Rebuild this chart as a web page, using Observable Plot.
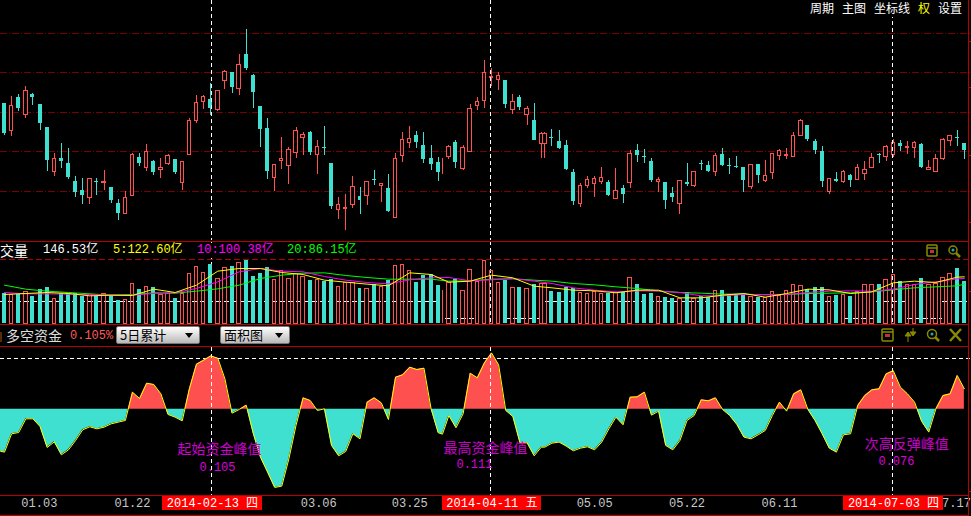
<!DOCTYPE html>
<html lang="zh">
<head>
<meta charset="utf-8">
<script src="https://cdn.jsdelivr.net/npm/d3@7"></script>
<script src="https://cdn.jsdelivr.net/npm/@observablehq/plot@0.6"></script>
<style>
html,body{margin:0;padding:0;background:#000;width:971px;height:516px;overflow:hidden}
#stage{position:relative;width:971px;height:516px;background:#000;overflow:hidden;font-family:"Liberation Mono","Noto Sans CJK SC",monospace}
.panel{position:absolute;left:0}
.panel svg{display:block;background:transparent!important}
.line{position:absolute;background:#b80000}
.t{position:absolute;white-space:pre;line-height:14px;font-size:12px}
.cjk{font-family:"Noto Sans CJK SC",sans-serif}
.combo{position:absolute;top:326px;height:18px;box-sizing:border-box;border:1px solid #777;border-radius:2px;background:linear-gradient(#fff,#b9b9b9);color:#000;font:13px/16px "Noto Sans CJK SC",sans-serif;padding-left:3px}
.combo i{position:absolute;right:6px;top:6px;width:0;height:0;border:4px solid transparent;border-top:5px solid #000;border-bottom:0}
.icon{position:absolute}
</style>
</head>
<body>
<div id="stage">
  <div class="panel" id="pPrice" style="top:0"></div>
  <div class="panel" id="pVol" style="top:241px"></div>
  <div class="panel" id="pFund" style="top:347px"></div>
  <div class="panel" id="pAxis" style="top:496px"></div>

  <div class="line" style="left:0;top:241px;width:969px;height:1px"></div>
  <div class="line" style="left:0;top:324px;width:969px;height:1px"></div>
  <div class="line" style="left:0;top:346px;width:969px;height:1px"></div>
  <div class="line" style="left:0;top:495px;width:969px;height:1px"></div>
  <div class="line" style="left:0;top:515px;width:969px;height:1px"></div>
  <div class="line" style="left:968px;top:0;width:1px;height:516px"></div>
  <div class="line" style="left:968px;top:41px;width:3px;height:1px"></div>
  <div class="line" style="left:968px;top:87px;width:3px;height:1px"></div>
  <div class="line" style="left:968px;top:155px;width:3px;height:1px"></div>
  <div class="line" style="left:968px;top:222px;width:3px;height:1px"></div>
  <div class="line" style="left:968px;top:291px;width:3px;height:1px"></div>
  <div class="line" style="left:968px;top:491px;width:3px;height:1px"></div>

  <div style="position:absolute;left:805px;top:0;width:162px;height:17px;background:#000"></div>
  <div class="t cjk" style="left:810px;top:1px;color:#fff">周期</div>
  <div class="t cjk" style="left:842px;top:1px;color:#fff">主图</div>
  <div class="t cjk" style="left:874px;top:1px;color:#fff">坐标线</div>
  <div class="t cjk" style="left:918px;top:1px;color:#ff0">权</div>
  <div class="t cjk" style="left:938px;top:1px;color:#fff">设置</div>

  <div style="position:absolute;left:0;top:243px;width:360px;height:15px;background:#000"></div>
  <div class="t cjk" style="left:0;top:243px;color:#fff;font-size:14px">交量</div>
  <div class="t" style="left:43px;top:243px;color:#fff">146.53亿</div>
  <div class="t" style="left:113px;top:243px;color:#ff0">5:122.60亿</div>
  <div class="t" style="left:197px;top:243px;color:#f0f">10:100.38亿</div>
  <div class="t" style="left:287px;top:243px;color:#0f0">20:86.15亿</div>

  <div style="position:absolute;left:0;top:332px;width:2px;height:10px;background:#5a2a00"></div>
  <div class="t cjk" style="left:6px;top:328px;color:#ddd;font-size:14px">多空资金</div>
  <div class="t" style="left:70px;top:329px;color:#ff5a5a">0.105%</div>
  <div class="combo" style="left:116px;width:84px">5日累计<i></i></div>
  <div class="combo" style="left:220px;width:70px">面积图<i></i></div>

  <svg class="icon" style="left:926px;top:244px" width="36" height="14" fill="none" stroke="#8a8a00" stroke-width="1.5">
    <rect x="1" y="1" width="10" height="11" rx="1"/><path d="M1 4H11"/><rect x="4" y="6" width="4" height="3" fill="#b33" stroke="none"/>
    <circle cx="27" cy="6" r="4"/><path d="M30 9L34 13" stroke-width="2.5"/><circle cx="27" cy="6" r="1.5" fill="#2aa" stroke="none"/>
  </svg>
  <svg class="icon" style="left:881px;top:327px" width="82" height="16" fill="none" stroke="#8a8a00" stroke-width="1.5">
    <rect x="1" y="2" width="11" height="12" rx="1"/><path d="M1 5H12"/><rect x="4" y="7" width="5" height="3" fill="#b33" stroke="none"/>
    <path d="M24 9L27 5L30 9ZM27 9V15M29 5L32 9L35 5ZM32 5V1" fill="#8a8a00" stroke-width="1"/>
    <circle cx="51" cy="7" r="4.5"/><path d="M54 10L58 14" stroke-width="2.5"/><circle cx="51" cy="7" r="1.5" fill="#2aa" stroke="none"/>
    <path d="M69 2L80 14M80 2L69 14" stroke-width="2.4"/>
  </svg>
</div>

<script>
// ---- price panel (candles), one value per trading day ----
const opens = [4.11,3.28,4.29,3.76,4.39,4.08,3.39,2.07,2.46,2.31,1.77,1.50,1.27,1.77,1.74,1.59,1.11,0.81,1.35,2.49,2.17,2.37,2.13,2.31,2.43,1.72,2.56,3.60,4.15,4.23,3.93,4.78,5.04,4.54,5.58,4.95,4.02,3.36,1.87,2.40,2.25,2.62,3.09,3.24,2.56,2.79,2.31,0.91,0.96,1.08,1.32,1.35,1.83,1.65,1.56,0.69,2.55,2.94,3.15,2.85,2.46,2.34,2.22,2.52,2.94,2.16,2.67,4.05,4.20,4.89,4.83,4.80,3.93,4.29,3.78,3.60,2.91,2.91,3.09,2.97,2.85,2.04,1.11,1.65,1.71,1.77,1.74,1.26,1.56,1.74,2.70,2.52,2.37,1.77,1.74,1.41,1.11,1.74,1.65,2.31,2.25,2.07,2.58,2.25,2.22,2.19,1.62,2.28,1.80,2.04,2.53,2.55,2.52,3.15,3.45,2.97,2.67,1.47,1.83,1.77,1.95,1.83,2.01,2.19,2.58,2.52,2.58,2.91,2.79,2.79,2.88,2.13,2.07,2.46,3.00,3.09,2.91];
const closes = [3.21,4.04,3.96,4.50,4.29,3.51,2.40,2.46,2.37,1.89,1.44,1.35,1.85,1.74,1.77,1.20,0.81,1.29,2.58,2.31,2.66,2.04,2.19,2.55,2.04,2.36,3.60,4.14,4.32,3.96,4.50,5.07,4.59,5.28,5.16,4.44,3.33,2.07,2.28,2.46,2.73,3.30,3.18,2.64,2.82,2.76,1.02,1.08,0.99,1.62,1.20,1.77,1.80,1.71,0.87,2.46,3.03,3.06,2.94,2.43,2.28,2.04,2.22,2.82,2.34,2.79,3.96,4.16,5.04,4.92,4.95,4.08,4.17,3.99,3.96,3.00,3.20,3.20,3.06,2.76,2.13,1.17,1.65,1.83,1.86,1.89,1.35,1.50,1.38,2.61,2.55,2.49,1.80,1.83,1.20,1.29,1.80,1.68,2.07,2.28,2.07,2.55,2.25,2.22,2.19,1.80,2.28,1.95,1.95,2.61,2.70,2.58,3.15,3.60,3.03,2.70,1.77,1.86,1.77,2.07,1.80,2.19,2.13,2.49,2.55,2.82,2.94,2.82,2.82,2.94,2.19,2.19,2.46,3.03,3.15,3.06,2.70];
const highs = [4.11,4.32,4.38,4.62,4.41,4.08,3.39,2.61,2.91,2.76,1.92,1.86,1.85,1.86,2.10,1.59,1.23,1.47,2.61,2.61,2.88,2.40,2.46,2.58,2.43,2.36,3.66,4.35,4.35,4.71,4.50,5.10,5.04,5.58,6.33,4.98,4.02,3.66,2.28,3.09,2.79,3.39,3.24,3.27,3.00,3.42,2.31,1.29,1.38,1.92,1.59,1.77,2.10,1.71,1.98,2.61,3.24,3.42,3.27,3.24,2.85,2.49,2.46,2.85,3.00,2.85,4.08,4.29,5.40,5.16,5.04,4.80,4.38,4.35,4.02,4.11,3.24,3.24,3.33,3.30,3.00,2.13,1.71,1.92,1.92,2.19,1.80,2.16,1.65,2.70,2.88,2.73,2.46,1.89,1.74,1.59,1.80,2.31,2.07,2.40,2.37,2.61,2.76,2.46,2.52,2.19,2.28,2.28,2.40,2.61,2.73,2.76,3.24,3.63,3.45,3.03,2.82,1.86,2.04,2.10,1.98,2.28,2.37,2.61,2.61,2.85,3.03,3.00,2.97,2.97,2.91,2.40,2.58,3.06,3.15,3.30,2.91];
const lows = [3.15,3.12,3.87,3.66,4.05,3.30,2.07,1.92,2.16,1.83,1.29,1.08,1.08,1.35,1.50,1.11,0.60,0.81,1.32,2.22,2.07,1.95,1.86,2.25,1.98,1.50,2.56,3.51,3.93,3.75,3.87,4.53,4.41,4.35,5.10,3.96,2.79,1.83,1.47,2.13,1.68,2.46,2.55,2.55,1.98,2.55,0.93,0.63,0.30,0.96,0.78,1.05,1.65,1.14,0.84,0.66,2.34,2.76,2.76,2.31,2.10,1.77,1.98,2.43,2.16,2.10,2.64,3.90,3.96,4.62,4.50,3.96,3.78,3.90,3.45,3.00,2.46,2.46,2.82,2.73,2.10,1.05,0.99,1.56,1.29,1.68,1.32,1.23,1.11,1.56,2.34,2.31,1.74,1.44,0.93,1.14,0.78,1.62,1.59,2.10,2.04,1.92,2.22,1.98,2.16,1.44,1.53,1.71,1.74,1.83,2.40,2.43,2.49,3.12,2.97,2.58,1.59,1.38,1.74,1.71,1.59,1.80,1.80,2.19,2.31,2.37,2.49,2.67,2.58,2.46,2.16,2.10,2.04,2.40,2.82,2.82,2.43];
const priceGrid = [6.20,5.03,3.83,2.66,1.46];

// ---- volume panel ----
const volumes = [90,87,87,95,81,102,108,75,90,90,90,81,85,81,90,83,69,72,120,102,111,108,87,90,75,90,150,171,153,177,135,168,171,183,189,141,150,168,132,159,135,150,141,129,132,126,132,111,123,123,105,105,117,111,129,174,177,159,123,144,147,114,99,123,132,99,162,126,189,159,123,129,108,108,105,117,120,120,96,93,108,105,93,90,96,90,90,93,93,138,117,87,90,81,78,75,75,93,75,81,78,99,99,87,87,84,81,78,78,96,84,99,117,114,102,108,108,81,84,87,81,96,117,117,117,132,147,126,117,117,135,117,120,138,150,165,126];
const maDays = [0,3,6,9,12,15,18,21,24,27,30,33,36,39,42,45,48,51,54,57,60,63,66,69,72,75,78,81,84,87,90,93,96,99,102,105,108,111,114,117,120,123,126,129,132,135,136];
const ma5 = [87,90,93,90,83,85,84,103,93,115,157,165,165,153,147,130,124,118,113,152,147,124,127,145,137,112,107,100,98,92,100,100,77,77,85,90,79,90,103,101,90,95,122,127,123,139,140];
const ma10 = [93,89,89,88,87,85,85,90,92,105,125,155,165,157,155,141,130,123,119,131,137,138,128,131,135,127,120,107,100,95,98,97,93,83,83,87,87,87,93,97,98,97,103,117,125,134,135];
const ma20 = [115,103,97,93,89,85,87,92,91,97,104,115,135,145,151,152,144,138,133,133,133,127,128,133,134,130,127,120,116,110,105,98,93,91,88,88,86,87,90,91,92,95,101,107,110,113,118];
const volDashTop = 191;
const volDashMid = [[-0.56,61.1],[76.1,117.8],[122.7,127],[131.9,135.4]];
const volDashLow = [[62,66.2],[70.5,75.4],[118.3,122.7],[127,131.9]];
const volGuide = 65, volGuideLow = 15;

// ---- long/short funds panel, 5-day sum, in thousandths ----
const fundLead = -83;
const funds = [-84.8,-48.6,-46,-19,-19,-34.2,-75.6,-64.4,-90,-80.2,-61.8,-40.7,-34.8,-38.8,-35.5,-28.9,-25.6,-22.3,33.5,21,51.2,48.6,30.2,-10.5,-15.8,-23,40,88.7,96.6,105,100.5,59.8,-7.9,-0.7,7.9,-48.6,-94.6,-124.2,-154.4,-151.8,-97.9,-32.2,22.3,17.1,-2.6,0.7,-71.6,-92,-83.4,-48.6,-58.5,13.8,22.3,12.5,-20.4,63.1,67.7,82.8,78.2,80.8,0.7,-46.6,-49.3,-12.5,-36.8,-9.2,71,61.8,91.3,111,87.4,-2.6,-14.5,-66.4,-66.4,-92,-74.9,-74.9,-67,-65,-72.9,-82.1,-76.9,-74.2,-80.2,-65,-38.8,-15.8,-30.9,23.7,24.3,33.5,-11.8,-3.9,-71.6,-80.2,-61.8,-22.3,-12.5,18.4,16.4,22.3,-0.7,-12.5,-30.2,-55.2,-58.5,-50.6,-42,-12.5,13.8,-3.9,30.2,38.1,-0.7,-22.3,-48.6,-76.9,-84.8,-50.6,-48.6,7.2,26.9,38.1,40.1,69.6,76,43.4,30.2,13.8,-24.3,-45.3,0.7,26.9,30.2,66.4,40.1];
const fundGuide = 99.2;
const noteText = ["起始资金峰值","0.105","最高资金峰值","0.111","次高反弹峰值","0.076"];
const noteSlot = [30.24,29.96,67.65,66.1,126.9,125.45];
const noteValue = [-79.5,-115,-77.6,-109,-69.7,-103];

// ---- date axis ----
const tickLabels = ["01.03","01.22","03.06","03.25","05.05","05.22","06.11","7.17"];
const tickSlots = [4.9,18,44.2,57,83,96,109,133.9];
const cursorSlots = [29.16,68.4,124.9];
const cursorLabels = ["2014-02-13 四","2014-04-11 五","2014-07-03 四"];
const cursorFrom = [22.2,61.6,118];
const cursorTo = [36.3,75.5,132.07];

// ---- shared ----
const RED = "#ff5050", TEAL = "#40e0d0", GRID = "#7a0000";
const slotOf = i => i <= 61 ? i : i === 62 ? 61.6 : i <= 76 ? i - 0.5 : i - 1;
const days = opens.map((o, i) => ({
  s: slotOf(i), o, c: closes[i], h: highs[i], l: lows[i], v: volumes[i],
  up: closes[i] >= o, doji: i === 62
}));
const xScale = {type: "linear", domain: [-4 / 7.11, 967 / 7.11], range: [0, 971], axis: null};
const base = {width: 971, marginTop: 0, marginRight: 0, marginBottom: 0, marginLeft: 0, x: xScale,
              style: {background: "transparent"}};
const crisp = {shapeRendering: "crispEdges"};
const cursorRule = () => Plot.ruleX(cursorSlots, {stroke: "#fff", strokeDasharray: "4 3", ...crisp});
const mono = '"Liberation Mono","Noto Sans CJK SC",monospace';
const cjk = '"Noto Sans CJK SC",sans-serif';

// Price panel
const up = days.filter(d => d.up), down = days.filter(d => !d.up);
document.getElementById("pPrice").append(Plot.plot({...base, height: 240,
  y: {domain: [0, 7.2], range: [240, 0], axis: null},
  marks: [
    Plot.ruleY(priceGrid, {stroke: GRID, strokeDasharray: "7 2 1 2", ...crisp}),
    Plot.ruleX(days, {x: "s", y1: "l", y2: "h", stroke: d => d.up ? RED : TEAL, ...crisp}),
    Plot.rect(down, {x1: d => d.s - 0.28, x2: d => d.s + 0.28, y1: "o", y2: "c", fill: TEAL, ...crisp}),
    Plot.rect(up.filter(d => !d.doji), {x1: d => d.s - 0.24, x2: d => d.s + 0.24, y1: "o", y2: "c", fill: "#000", stroke: RED, ...crisp}),
    cursorRule()
  ]}));

// Volume panel
const maPoints = maDays.map((d, k) => ({s: slotOf(d), a: ma5[k], b: ma10[k], c: ma20[k]}));
const segs = (list, v) => list.map(([a, b]) => ({a, b, v}));
document.getElementById("pVol").append(Plot.plot({...base, height: 83,
  y: {domain: [0, 246], range: [82, 0], axis: null},
  marks: [
    Plot.ruleY([volDashTop], {stroke: "#b00000", strokeDasharray: "6 3", ...crisp}),
    Plot.ruleY(segs(volDashMid, volGuide).concat(segs(volDashLow, volGuideLow)), {x1: "a", x2: "b", y: "v", stroke: "#fff", strokeDasharray: "5 3", ...crisp}),
    cursorRule(),
    Plot.rect(down, {x1: d => d.s - 0.28, x2: d => d.s + 0.28, y1: 0, y2: "v", fill: TEAL, ...crisp}),
    Plot.rect(up.filter(d => !d.doji), {x1: d => d.s - 0.24, x2: d => d.s + 0.24, y1: 0, y2: "v", stroke: RED, fill: "none", ...crisp}),
    Plot.ruleX(up.filter(d => d.doji), {x: "s", y1: 0, y2: "v", stroke: RED, ...crisp}),
    Plot.line(maPoints, {x: "s", y: "c", stroke: "#00ff00", strokeWidth: 1}),
    Plot.line(maPoints, {x: "s", y: "b", stroke: "#ff00ff", strokeWidth: 1}),
    Plot.line(maPoints, {x: "s", y: "a", stroke: "#ffff00", strokeWidth: 1})
  ]}));

// Funds panel: add the zero crossings so the two fills meet on the baseline
const raw = [{s: xScale.domain[0], v: fundLead}].concat(funds.map((v, i) => ({s: slotOf(i), v})));
const pts = [];
raw.forEach((p, i) => {
  const q = raw[i - 1];
  if (q && q.v * p.v < 0) pts.push({s: q.s + (p.s - q.s) * (-q.v / (p.v - q.v)), v: 0});
  pts.push(p);
});
const pxPerUnit = 0.507;
document.getElementById("pFund").append(Plot.plot({...base, height: 148,
  y: {domain: [-86.33 / pxPerUnit, 61.67 / pxPerUnit], range: [148, 0], axis: null},
  marks: [
    Plot.ruleY([fundGuide], {stroke: "#fff", strokeDasharray: "4 3", ...crisp}),
    Plot.areaY(pts, {x: "s", y1: 0, y2: d => Math.max(d.v, 0), fill: RED}),
    Plot.areaY(pts, {x: "s", y1: 0, y2: d => Math.min(d.v, 0), fill: TEAL}),
    cursorRule(),
    Plot.line(pts, {x: "s", y: "v", stroke: "#ffff00", strokeWidth: 1}),
    Plot.text(noteText.map((t, i) => ({t, s: noteSlot[i], v: noteValue[i], n: i % 2 === 0})).filter(d => d.n),
      {x: "s", y: "v", text: "t", fill: "#cc00cc", fontSize: 14, fontFamily: cjk}),
    Plot.text(noteText.map((t, i) => ({t, s: noteSlot[i], v: noteValue[i], n: i % 2 === 1})).filter(d => d.n),
      {x: "s", y: "v", text: "t", fill: "#dd00dd", fontSize: 12, fontFamily: mono})
  ]}));

// Date axis strip
const boxes = cursorLabels.map((t, i) => ({t, a: cursorFrom[i], b: cursorTo[i], m: (cursorFrom[i] + cursorTo[i]) / 2}));
document.getElementById("pAxis").append(Plot.plot({...base, height: 14,
  marks: [
    Plot.text(tickLabels.map((t, i) => ({t, s: tickSlots[i]})), {x: "s", text: "t", frameAnchor: "middle", fill: "#c8c8c8", fontSize: 12, fontFamily: mono}),
    Plot.rect(boxes, {x1: "a", x2: "b", fill: "#ff0000", ...crisp}),
    Plot.text(boxes, {x: "m", text: "t", frameAnchor: "middle", fill: "#fff", fontSize: 12, fontFamily: mono})
  ]}));
</script>
</body>
</html>
